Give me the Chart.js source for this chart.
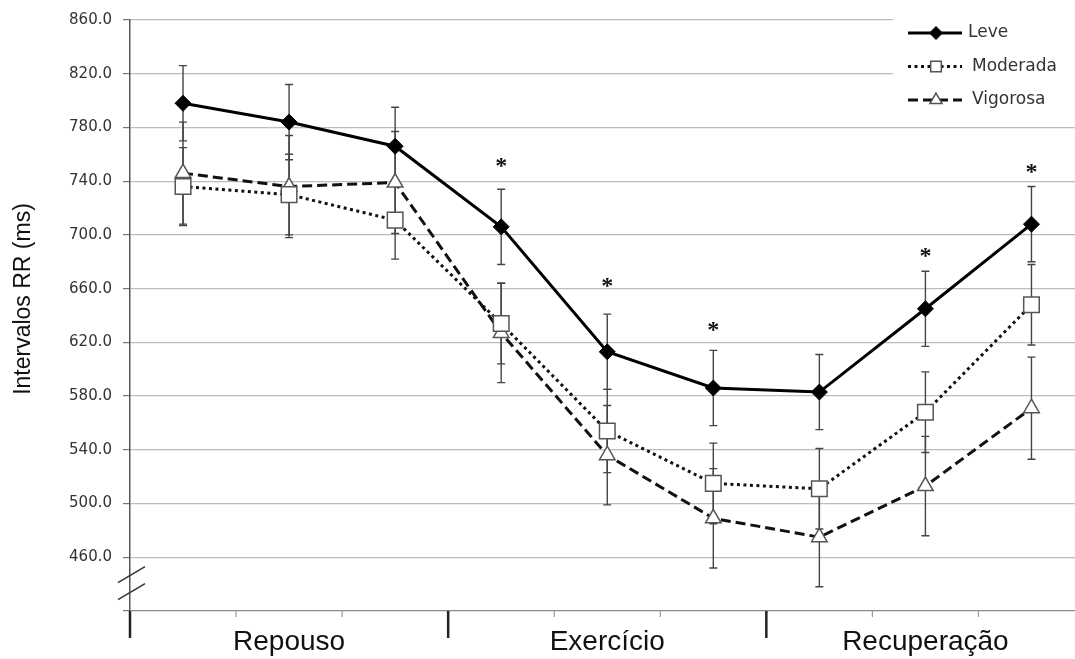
<!DOCTYPE html>
<html>
<head>
<meta charset="utf-8">
<script src="https://cdn.jsdelivr.net/npm/chart.js@4.4.1/dist/chart.umd.min.js"></script>
<style>
  html, body { margin: 0; padding: 0; background: #fff; overflow: hidden; }
  #wrap { width: 1097px; height: 659px; position: relative; }
</style>
</head>
<body>
<div id="wrap"><canvas id="rrChart"></canvas></div>
<script>
// pontos de medida: 3 por fase
const points = ['R1', 'R2', 'R3', 'E1', 'E2', 'E3', 'C1', 'C2', 'C3'];
const phases = ['Repouso', 'Exercício', 'Recuperação'];
const perPhase = 3;

// médias e desvios (ms)
const leve = [798, 784, 766, 706, 613, 586, 583, 645, 708];
const leveSD = [28, 28, 29, 28, 28, 28, 28, 28, 28];
const moderada = [736, 730, 711, 634, 554, 515, 511, 568, 648];
const moderadaSD = [29, 30, 29, 30, 31, 30, 30, 30, 30];
const vigorosa = [746, 736, 739, 627, 536, 489, 475, 513, 571];
const vigorosaSD = [38, 38, 38, 37, 37, 37, 37, 37, 38];

// asteriscos (posição em ms)
const stars = [null, null, null, 754, 665, 632, null, 687, 750];

const yMin = 420, yMax = 860, yStep = 40;
const yTitle = 'Intervalos RR (ms)';

// barras de erro, desenhadas antes das linhas
const errorBars = {
    id: 'errorBars',
    beforeDatasetsDraw(chart) {
        const { ctx, scales: { x, y } } = chart;
        ctx.save();
        ctx.strokeStyle = '#444';
        ctx.lineWidth = 1.4;
        chart.data.datasets.forEach(ds => {
            ds.sd.forEach((e, j) => {
                const px = x.getPixelForValue(j);
                const top = y.getPixelForValue(ds.data[j] + e);
                const bot = y.getPixelForValue(ds.data[j] - e);
                ctx.beginPath();
                ctx.moveTo(px, top); ctx.lineTo(px, bot);
                ctx.moveTo(px - 4, top); ctx.lineTo(px + 4, top);
                ctx.moveTo(px - 4, bot); ctx.lineTo(px + 4, bot);
                ctx.stroke();
            });
        });
        ctx.restore();
    }
};

// eixo x em fases, quebra do eixo, asteriscos, legenda e título
const extras = {
    id: 'extras',
    afterDraw(chart) {
        const { ctx, chartArea, scales: { x, y } } = chart;
        const bottom = chartArea.bottom;
        const half = (x.getPixelForValue(1) - x.getPixelForValue(0)) / 2;
        const x0 = x.getPixelForValue(0) - half;
        ctx.save();

        // marcas do eixo x
        for (let j = 0; j <= points.length; j++) {
            const bx = x0 + j * 2 * half;
            ctx.beginPath();
            if (j % perPhase === 0) {
                ctx.strokeStyle = '#222';
                ctx.lineWidth = 2.5;
                ctx.moveTo(bx, bottom); ctx.lineTo(bx, bottom + 27);
            } else {
                ctx.strokeStyle = '#999';
                ctx.lineWidth = 1.2;
                ctx.moveTo(bx, bottom); ctx.lineTo(bx, bottom + 6);
            }
            ctx.stroke();
        }

        // nomes das fases
        ctx.fillStyle = '#111';
        ctx.font = '28px "Liberation Sans", Arial, sans-serif';
        ctx.textAlign = 'center';
        ctx.textBaseline = 'alphabetic';
        phases.forEach((p, k) => {
            const cx = (x.getPixelForValue(k * perPhase) + x.getPixelForValue(k * perPhase + perPhase - 1)) / 2;
            ctx.fillText(p, cx, bottom + 39);
        });

        // quebra do eixo y
        const yb = y.getPixelForValue(440);
        ctx.strokeStyle = '#333';
        ctx.lineWidth = 1.5;
        [yb - 9.5, yb + 7.5].forEach(c => {
            ctx.beginPath();
            ctx.moveTo(chartArea.left - 12, c + 8);
            ctx.lineTo(chartArea.left + 15, c - 8);
            ctx.stroke();
        });

        // asteriscos
        ctx.font = 'bold 24px "Liberation Serif", serif';
        ctx.fillStyle = '#111';
        stars.forEach((s, j) => {
            if (s === null) return;
            ctx.fillText('*', x.getPixelForValue(j), y.getPixelForValue(s) + 11);
        });

        // legenda
        ctx.fillStyle = '#fff';
        ctx.fillRect(893, 0, chart.width - 893, 118);
        const markR = [6.5, 7.5, 7];
        chart.data.datasets.forEach((ds, i) => {
            const ly = 33 + i * 33.5;
            ctx.strokeStyle = ds.borderColor;
            ctx.lineWidth = ds.borderWidth;
            ctx.setLineDash(ds.borderDash || []);
            ctx.beginPath();
            ctx.moveTo(908, ly); ctx.lineTo(962, ly);
            ctx.stroke();
            ctx.setLineDash([]);
            ctx.fillStyle = ds.pointBackgroundColor;
            ctx.strokeStyle = ds.pointBorderColor;
            ctx.lineWidth = ds.pointBorderWidth;
            Chart.helpers.drawPoint(ctx, { pointStyle: ds.pointStyle, radius: markR[i], rotation: 0, borderWidth: ds.pointBorderWidth }, 936, ly);
            ctx.fillStyle = '#333';
            ctx.font = '17px "DejaVu Sans", sans-serif';
            ctx.textAlign = 'left';
            ctx.textBaseline = 'middle';
            ctx.fillText(ds.label, i === 0 ? 968 : 972, ly);
        });

        // título do eixo y
        ctx.translate(24, 299);
        ctx.rotate(-Math.PI / 2);
        ctx.fillStyle = '#111';
        ctx.font = '23px "Liberation Sans", Arial, sans-serif';
        ctx.textAlign = 'center';
        ctx.textBaseline = 'middle';
        ctx.fillText(yTitle, 0, 0);
        ctx.restore();
    }
};

new Chart(document.getElementById('rrChart'), {
    type: 'line',
    data: {
        labels: points,
        datasets: [
            {
                label: 'Leve', data: leve, sd: leveSD,
                borderColor: '#000', borderWidth: 3,
                pointStyle: 'rectRot', pointRadius: 8,
                pointBackgroundColor: '#000', pointBorderColor: '#000', pointBorderWidth: 1
            },
            {
                label: 'Moderada', data: moderada, sd: moderadaSD,
                borderColor: '#111', borderWidth: 3, borderDash: [3, 3.5],
                pointStyle: 'rect', pointRadius: 11,
                pointBackgroundColor: '#fff', pointBorderColor: '#555', pointBorderWidth: 1.5
            },
            {
                label: 'Vigorosa', data: vigorosa, sd: vigorosaSD,
                borderColor: '#111', borderWidth: 3, borderDash: [10, 5],
                pointStyle: 'triangle', pointRadius: 9,
                pointBackgroundColor: '#fff', pointBorderColor: '#555', pointBorderWidth: 1.5
            }
        ]
    },
    options: {
        responsive: true,
        maintainAspectRatio: false,
        animation: false,
        layout: { padding: { top: 17, right: 6, bottom: 48, left: 0 } },
        plugins: { legend: { display: false }, tooltip: { enabled: false } },
        scales: {
            x: { display: false, offset: true },
            y: {
                min: yMin, max: yMax,
                ticks: {
                    stepSize: yStep, padding: 11, color: '#333',
                    font: { family: 'DejaVu Sans', size: 15 },
                    callback: v => v === yMin ? '' : v.toFixed(1)
                },
                grid: {
                    color: c => (c.tick && c.tick.value === yMin) ? '#8a8a8a' : '#bdbdbd',
                    lineWidth: 1.2, tickLength: 7, tickColor: '#777'
                },
                border: { color: '#555', width: 1.5 },
                afterFit: s => { s.width = 130; }
            }
        }
    },
    plugins: [errorBars, extras]
});
</script>
</body>
</html>
